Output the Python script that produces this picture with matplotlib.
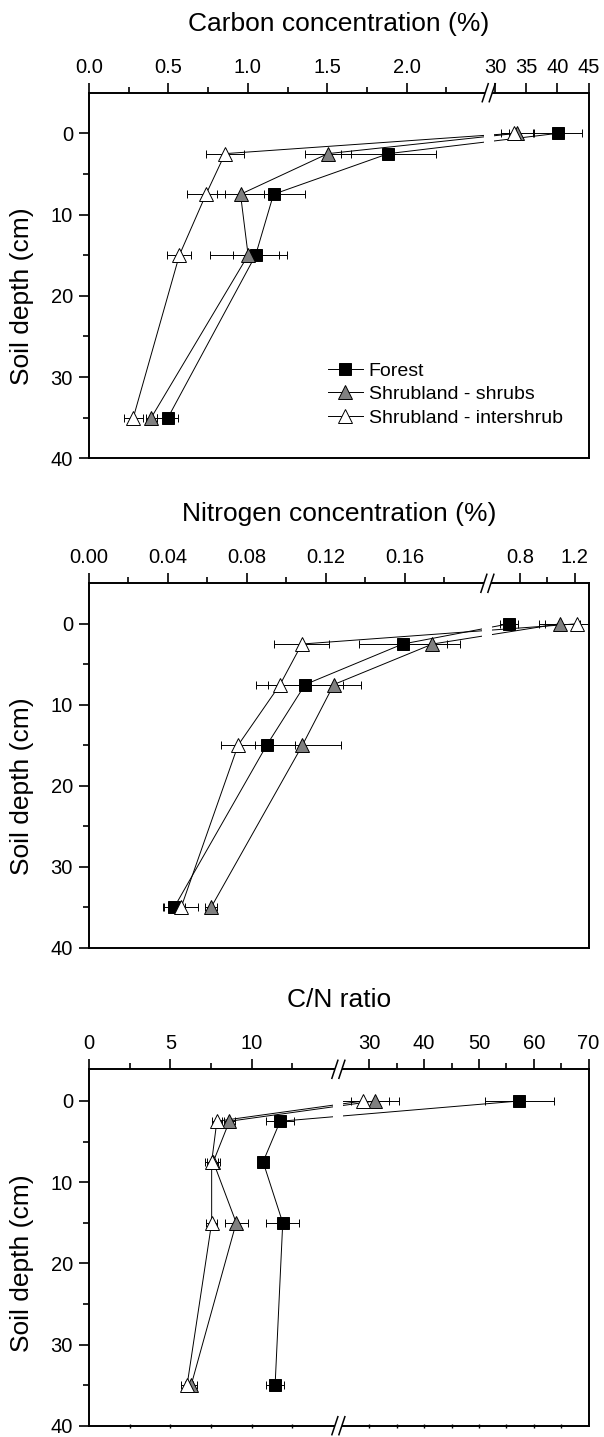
import numpy as np
import matplotlib
matplotlib.use('Agg')
import matplotlib.pyplot as plt
import matplotlib.transforms as mtransforms
from matplotlib.lines import Line2D
from matplotlib.patches import Rectangle

plt.rcParams['font.family'] = ['Liberation Sans', 'DejaVu Sans']

# sampling depths (cm)
depth = [0, 2.5, 7.5, 15, 35]

# carbon concentration (%)
forest_c = [40.1, 1.885, 1.162, 1.049, 0.497]
forest_c_err = [3.8, 0.30, 0.20, 0.145, 0.066]
shrub_c = [33.5, 1.504, 0.954, 1.002, 0.392]
shrub_c_err = [2.6, 0.145, 0.15, 0.243, 0.035]
inter_c = [33.0, 0.857, 0.737, 0.569, 0.279]
inter_c_err = [0.7, 0.12, 0.12, 0.075, 0.06]

# nitrogen concentration (%)
forest_n = [0.722, 0.1589, 0.1095, 0.090, 0.0432]
forest_n_err = [0.064, 0.0223, 0.019, 0.0143, 0.0055]
shrub_n = [1.091, 0.174, 0.124, 0.1081, 0.0619]
shrub_n_err = [0.15, 0.014, 0.014, 0.0197, 0.003]
inter_n = [1.217, 0.1078, 0.0968, 0.0755, 0.0467]
inter_n_err = [0.23, 0.014, 0.012, 0.0087, 0.0085]

# C/N ratio
forest_cn = [57.4, 11.75, 10.7, 11.91, 11.44]
forest_cn_err = [6.3, 0.85, 0.3, 1.0, 0.53]
shrub_cn = [31.1, 8.63, 7.64, 9.05, 6.28]
shrub_cn_err = [4.4, 0.35, 0.4, 0.7, 0.35]
inter_cn = [28.9, 7.86, 7.54, 7.54, 6.03]
inter_cn_err = [4.6, 0.3, 0.4, 0.35, 0.35]

labels = ['Forest', 'Shrubland - shrubs', 'Shrubland - intershrub']

c_ticks = [0, 0.5, 1.0, 1.5, 2.0, 30, 35, 40, 45]
c_ticklabels = ['0.0', '0.5', '1.0', '1.5', '2.0', '30', '35', '40', '45']
c_minor = [0.25, 0.75, 1.25, 1.75, 2.25]
n_ticks = [0, 0.04, 0.08, 0.12, 0.16, 0.8, 1.2]
n_ticklabels = ['0.00', '0.04', '0.08', '0.12', '0.16', '0.8', '1.2']
n_minor = [0.02, 0.06, 0.10, 0.14, 0.18, 1.0]
cn_ticks = [0, 5, 10, 30, 40, 50, 60, 70]
cn_ticklabels = ['0', '5', '10', '30', '40', '50', '60', '70']
cn_minor = [2.5, 7.5, 12.5, 35, 45, 55, 65]
cn_bottom = [2.5, 5, 7.5, 10, 12.5, 30, 35, 40, 45, 50, 55, 60, 65]

SQ_MS, TRI_MS = 8.5, 10


def broken(b1, b2, k):
    # piecewise linear x scale: [0, b1] as is, [b2, ...] squeezed by k
    def fwd(x):
        x = np.asarray(x, dtype=float)
        return np.where(x <= b1, x, np.where(x >= b2, b1 + (x - b2) * k, b1))

    def inv(y):
        y = np.asarray(y, dtype=float)
        return np.where(y <= b1, y, b2 + (y - b1) / k)
    return fwd, inv


W, H = 604, 1437
fig = plt.figure(figsize=(W / 100, H / 100), dpi=100)
X0, X1 = 89, 588.5


def style_top(ax, ticks, ticklabels, minor):
    ax.xaxis.tick_top()
    ax.set_xticks(ticks)
    ax.set_xticklabels(ticklabels)
    ax.set_xticks(minor, minor=True)
    ax.set_yticks([0, 10, 20, 30, 40])
    ax.set_yticks([5, 15, 25, 35], minor=True)
    ax.tick_params(axis='both', which='major', length=7, width=1.2, direction='out',
                   labelsize=14.5, pad=4.5)
    ax.tick_params(axis='both', which='minor', length=4, width=1.2, direction='out')


def panel(top, bottom, ytop, brk, xmax, ticks, ticklabels, minor, title, series):
    ax = fig.add_axes([X0 / W, 1 - bottom / H, (X1 - X0) / W, (bottom - top) / H])
    axw, axh = X1 - X0, bottom - top
    fwd, inv = broken(*brk)
    ax.set_xscale('function', functions=(fwd, inv))
    ax.set_xlim(0, xmax)
    ax.set_ylim(40, ytop)

    for vals, errs, marker, face, ms in series:
        ax.plot(vals, depth, color='k', lw=0.7, zorder=1)
        ax.errorbar(vals, depth, xerr=errs, fmt='none', ecolor='k', elinewidth=0.7,
                    capsize=3.2, capthick=0.7, zorder=2)
        ax.plot(vals, depth, ls='none', marker=marker, ms=ms, mfc=face, mec='k',
                mew=0.7, zorder=3)

    # gap in the lines at the axis break
    frac = (fwd(brk[0]) - fwd(0)) / (fwd(xmax) - fwd(0))
    ax.add_patch(Rectangle((frac - 5 / axw, 0), 10 / axw, 1, transform=ax.transAxes,
                           fc='white', ec='none', zorder=2.2))

    style_top(ax, ticks, ticklabels, minor)
    for s in ax.spines.values():
        s.set_linewidth(1.4)

    ax.text(0.5, 1 + 69 / axh, title, transform=ax.transAxes, ha='center',
            va='center', fontsize=19)
    ax.set_ylabel('Soil depth (cm)', fontsize=19)
    ax.yaxis.set_label_coords(-0.111, 20,
                              transform=mtransforms.blended_transform_factory(ax.transAxes, ax.transData))
    return ax, frac, axw, axh


def break_marks(ax, frac, axw, axh, yb):
    ax.add_patch(Rectangle((frac - 3.5 / axw, yb - 2.5 / axh), 7 / axw, 5 / axh,
                           transform=ax.transAxes, fc='white', ec='none',
                           clip_on=False, zorder=4))
    for sgn in (-1, 1):
        xc = frac + sgn * 3.5 / axw
        ax.add_line(Line2D([xc - 3 / axw, xc + 3 / axw], [yb - 9 / axh, yb + 9 / axh],
                           transform=ax.transAxes, color='k', lw=1.1,
                           clip_on=False, zorder=5))


ax1, f1, w1, h1 = panel(92.7, 458.3, -5, (2.517, 29.0, 0.03926), 45,
                        c_ticks, c_ticklabels, c_minor, 'Carbon concentration (%)',
                        [(forest_c, forest_c_err, 's', 'black', SQ_MS),
                         (shrub_c, shrub_c_err, '^', '#808080', TRI_MS),
                         (inter_c, inter_c_err, '^', 'white', TRI_MS)])
break_marks(ax1, f1, w1, h1, 1)

handles = [Line2D([], [], color='k', lw=0.7, marker='s', ms=SQ_MS, mfc='black', mec='k', mew=0.7),
           Line2D([], [], color='k', lw=0.7, marker='^', ms=TRI_MS, mfc='#808080', mec='k', mew=0.7),
           Line2D([], [], color='k', lw=0.7, marker='^', ms=TRI_MS, mfc='white', mec='k', mew=0.7)]
ax1.legend(handles, labels, loc='upper left', bbox_to_anchor=(0.478, 0.263),
           frameon=False, fontsize=14, handlelength=1.8, handletextpad=0.3,
           labelspacing=0.3, borderaxespad=0, borderpad=0)

ax2, f2, w2, h2 = panel(583.3, 947.7, -5, (0.2018, 0.564, 0.0696), 1.3,
                        n_ticks, n_ticklabels, n_minor, 'Nitrogen concentration (%)',
                        [(forest_n, forest_n_err, 's', 'black', SQ_MS),
                         (shrub_n, shrub_n_err, '^', '#808080', TRI_MS),
                         (inter_n, inter_n_err, '^', 'white', TRI_MS)])
break_marks(ax2, f2, w2, h2, 1)

cn_brk = (15.33, 24.35, 0.3368)
ax3, f3, w3, h3 = panel(1069.3, 1425.7, -3.9, cn_brk, 70,
                        cn_ticks, cn_ticklabels, cn_minor, 'C/N ratio',
                        [(forest_cn, forest_cn_err, 's', 'black', SQ_MS),
                         (shrub_cn, shrub_cn_err, '^', '#808080', TRI_MS),
                         (inter_cn, inter_cn_err, '^', 'white', TRI_MS)])

# small ticks along the bottom of the C/N panel (twiny moves the host ticks, so restyle after)
axb = ax3.twiny()
fwd3, inv3 = broken(*cn_brk)
axb.set_xscale('function', functions=(fwd3, inv3))
axb.set_xlim(0, 70)
axb.xaxis.tick_bottom()
axb.set_xticks(cn_bottom)
axb.set_xticks([], minor=True)
axb.tick_params(axis='x', length=3, width=1.0, direction='inout', labelbottom=False,
                labeltop=False, top=False)
for s in axb.spines.values():
    s.set_visible(False)
style_top(ax3, cn_ticks, cn_ticklabels, cn_minor)
ax3.tick_params(axis='x', which='both', bottom=False, labelbottom=False)
break_marks(ax3, f3, w3, h3, 1)
break_marks(ax3, f3, w3, h3, 0)

fig.savefig('out.png', dpi=100)
